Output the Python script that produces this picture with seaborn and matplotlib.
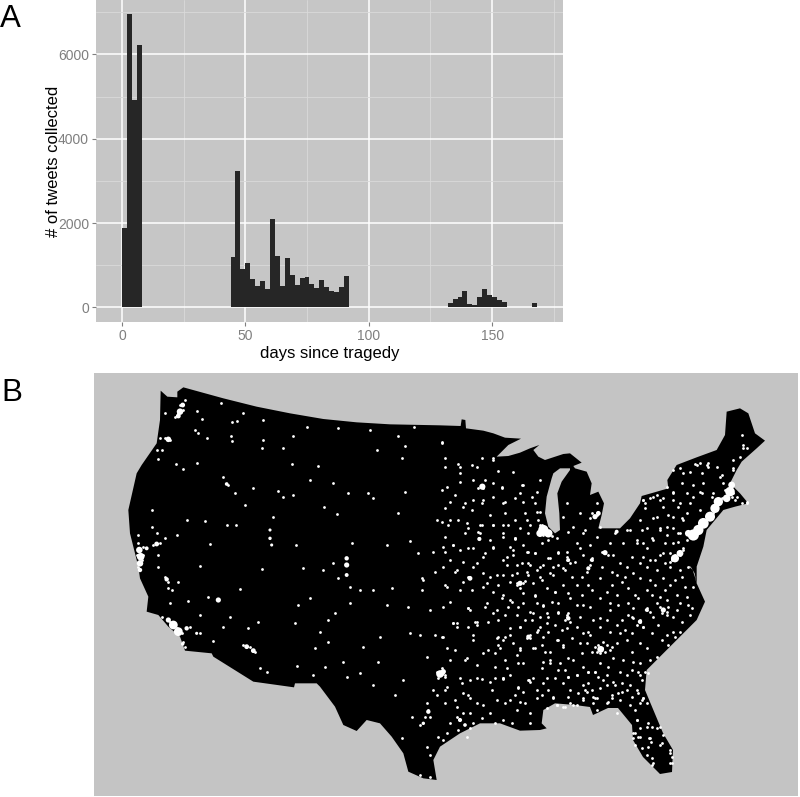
import numpy as np
import pandas as pd
import seaborn as sns
import matplotlib.pyplot as plt

# panel A: tweets per 2 day bin
bin_start = [0, 2, 4, 6,
             44, 46, 48, 50, 52, 54, 56, 58, 60, 62, 64, 66, 68, 70, 72, 74, 76, 78, 80, 82, 84, 86, 88, 90, 92,
             132, 134, 136, 138, 140, 142, 144, 146, 148, 150, 152, 154,
             164, 166]
tweets = [1880, 6950, 4930, 6230,
          1186, 3240, 900, 1060, 680, 506, 632, 443, 2095, 1225, 506, 1170, 767, 522, 696, 727, 561, 450, 640, 482, 387, 356, 490, 743, 20,
          100, 200, 245, 395, 87, 55, 245, 443, 300, 245, 182, 126,
          15, 95]
x_ticks = [0, 50, 100, 150]
y_ticks = [0, 2000, 4000, 6000]

outline_west_x = [212, 232, 262, 262, 280, 400, 500, 600, 700, 800, 900, 1050]
outline_west_y = [62, 80, 82, 65, 52, 85, 110, 130, 147, 157, 163, 166]
outline_east_x = [62, 65, 76, 78, 130, 160, 195, 243, 205, 170, 205, 240, 270, 298, 280, 295, 315, 370, 390, 425, 400, 405, 440, 455, 450, 475, 492, 485, 475, 510, 540, 570, 600, 605, 640, 685, 682, 710, 770, 830, 855, 860, 900, 925, 945, 975, 950, 905, 890, 870, 900, 925, 885, 850, 800, 790, 770, 770, 795, 770, 720, 660, 620, 615, 630, 669, 699, 696, 660, 609, 579, 576, 534, 504, 459, 450, 405, 345, 310, 305, 320, 300, 240, 180, 120, 60, 0]
outline_east_y = [168, 148, 150, 175, 182, 190, 203, 206, 225, 260, 258, 248, 235, 225, 240, 260, 270, 252, 250, 278, 288, 295, 305, 340, 375, 365, 400, 435, 475, 475, 475, 445, 400, 378, 368, 355, 330, 285, 262, 240, 195, 125, 115, 130, 190, 212, 235, 275, 300, 340, 370, 400, 410, 420, 480, 530, 590, 640, 695, 750, 800, 860, 900, 960, 996, 1089, 1140, 1206, 1212, 1161, 1110, 1065, 1014, 1014, 1035, 1011, 1005, 1000, 1020, 1060, 1075, 1080, 1082, 1060, 1060, 1090, 1130]
outline_south_x = [1030, 1040, 1000, 955, 940, 905, 870, 830, 800, 760, 735, 690, 680, 615, 612, 490, 370, 365, 285, 270, 235, 205, 170, 175, 150, 145, 120, 115, 140, 155, 200, 210]
outline_south_y = [1170, 1230, 1225, 1205, 1150, 1100, 1060, 1050, 1083, 1065, 1010, 950, 940, 940, 952, 935, 860, 850, 842, 800, 770, 735, 725, 680, 625, 590, 490, 420, 310, 285, 220, 150]
lake_x = [390, 360, 340, 335, 320, 315, 325, 345, 360, 358, 352, 365, 390]
lake_y = [295, 295, 310, 325, 380, 430, 470, 490, 480, 430, 370, 335, 300]
bay_x = [745, 758, 766, 770, 764, 752]
bay_y = [588, 600, 625, 642, 610, 590]

metro_west_x = [270, 278, 265, 235, 152, 148, 150, 150, 200, 170, 230, 385, 235, 250, 265, 290, 320, 278, 470, 490, 540, 540, 545, 770, 770, 770, 1050, 1060, 1015, 1000, 410]
metro_west_y = [125, 105, 138, 208, 560, 540, 580, 600, 522, 535, 628, 690, 750, 765, 785, 775, 790, 822, 830, 842, 480, 505, 525, 565, 585, 615, 912, 905, 1025, 1060, 342]
metro_west_s = [22, 12, 12, 16, 30, 22, 22, 10, 12, 8, 10, 14, 14, 40, 40, 10, 5, 6, 12, 12, 5, 6, 5, 10, 14, 8, 30, 14, 10, 6, 7]
metro_east_x = [127, 310, 325, 300, 465, 475, 90, 118, 240, 5, 445, 455, 495, 385, 385, 482, 600, 620, 670, 705, 720, 760, 745, 775, 790, 810, 825, 835, 870, 875, 860, 60, 75, 530, 265]
metro_east_y = [350, 480, 490, 490, 440, 430, 625, 507, 640, 910, 595, 570, 548, 570, 745, 838, 755, 720, 720, 565, 550, 495, 490, 480, 460, 440, 415, 395, 365, 345, 385, 1050, 1065, 485, 800]
metro_east_s = [20, 55, 36, 28, 14, 12, 12, 9, 14, 18, 9, 7, 14, 7, 10, 24, 10, 7, 14, 34, 24, 65, 24, 55, 60, 52, 45, 45, 48, 24, 30, 9, 7, 8, 9]

town_west_x = [320, 335, 425, 440, 460, 520, 392, 225, 315, 325, 350, 422, 425, 520, 515, 610, 650, 745, 840, 925, 972, 945, 1055, 935, 860, 578, 605, 685, 258, 280, 205, 322, 400, 415, 490, 435, 465, 565, 580, 610, 660, 730, 775, 835, 850, 945, 1055, 702, 742, 925, 1040, 290, 345, 410, 438, 550, 360, 618, 785, 890, 960, 985, 1030, 730, 640, 515, 330, 700, 745, 780, 995, 1035, 1000, 450, 355, 660, 625, 780, 810, 850, 905, 995, 890, 955, 1020, 735, 715, 690, 715, 615, 505, 475, 420, 400, 330, 370, 295, 240, 265, 235, 185, 185, 145, 200, 260, 225, 870, 820, 1035, 960, 990, 675, 760, 865, 1010, 705, 620, 670, 530, 510, 770, 810, 940, 915, 850, 1030, 1040, 1010, 965, 1045, 935, 1010, 1020, 990, 1020]
town_west_y = [122, 148, 155, 152, 130, 150, 100, 130, 180, 190, 205, 198, 212, 210, 235, 197, 172, 175, 180, 198, 172, 228, 218, 265, 240, 235, 282, 288, 283, 298, 268, 280, 320, 345, 355, 368, 405, 362, 380, 375, 330, 340, 368, 370, 385, 365, 360, 412, 432, 430, 450, 450, 452, 465, 465, 440, 522, 525, 518, 525, 512, 550, 545, 578, 595, 597, 588, 600, 625, 650, 625, 605, 630, 657, 680, 685, 705, 700, 660, 660, 655, 660, 705, 710, 720, 730, 750, 785, 815, 758, 757, 775, 742, 770, 735, 812, 692, 700, 635, 655, 420, 470, 495, 490, 495, 505, 800, 830, 795, 790, 795, 835, 875, 875, 860, 892, 888, 915, 905, 895, 920, 910, 930, 975, 945, 960, 975, 1000, 1040, 1100, 1105, 1130, 1155, 1215, 1222]
# denser specks round the west metros
cluster_west_x = [145, 160, 190, 210, 140, 160, 155, 145, 200, 215, 210, 240, 225, 270, 265, 280, 285, 255, 330, 300, 215, 240, 260, 275, 278, 285, 205, 205, 225, 235, 245, 460, 480, 495, 1040, 1065, 1045, 1055, 1015, 1005, 990, 1020]
cluster_west_y = [520, 530, 525, 520, 555, 555, 570, 590, 240, 240, 205, 210, 205, 105, 130, 120, 90, 140, 790, 770, 740, 755, 775, 790, 815, 830, 555, 590, 620, 635, 660, 825, 830, 845, 905, 920, 925, 895, 1020, 1040, 1065, 1040]

# south east block, measured from (500,520)
town_mid_x = [10, 45, 85, 105, 150, 175, 200, 230, 240, 270, 290, 345, 370, 410, 440, 460, 500, 520, 20, 65, 110, 150, 195, 225, 250, 340, 360, 395, 420, 465, 490, 470, 400, 350, 335, 375, 420, 490, 525, 555, 565, 10, 30, 100, 125, 165, 190, 230, 265, 275, 320, 335, 385, 440, 465, 495, 530, 580, 5, 35, 70, 105, 130, 175, 210, 250, 300, 355, 385, 415, 455, 500, 540, 570, 15, 50, 90, 145, 175, 240, 300, 330, 365, 350, 440, 450, 490, 500, 545, 30, 60, 120, 165, 250, 265, 300, 360, 375, 420, 400, 430, 475, 520, 525, 10, 40, 85, 130, 175, 215, 240, 270, 350, 395, 420, 470, 485, 15, 50, 100, 150, 205, 220, 245, 275, 335, 340, 420, 445, 30, 85, 125, 175, 230, 265, 285, 325, 360, 395, 10, 55, 110, 130, 190, 265, 310, 345, 390, 425, 45, 160, 235, 280, 335, 395, 430]
town_mid_y = [38, 58, 95, 100, 115, 100, 95, 70, 85, 75, 50, 40, 70, 70, 85, 60, 45, 70, 110, 130, 150, 160, 150, 125, 105, 105, 130, 110, 130, 120, 100, 150, 160, 165, 155, 170, 175, 175, 180, 200, 140, 165, 185, 190, 180, 215, 195, 195, 195, 210, 215, 195, 205, 210, 195, 210, 225, 200, 235, 245, 220, 228, 258, 250, 235, 255, 235, 255, 250, 235, 225, 240, 250, 285, 285, 285, 275, 290, 275, 290, 295, 270, 300, 315, 265, 275, 268, 285, 305, 325, 320, 320, 315, 340, 335, 320, 340, 330, 305, 295, 320, 315, 335, 350, 360, 370, 352, 350, 360, 355, 370, 345, 370, 395, 370, 410, 360, 420, 405, 385, 395, 415, 420, 400, 395, 380, 415, 430, 460, 465, 480, 445, 450, 465, 455, 455, 440, 455, 450, 478, 500, 510, 490, 490, 490, 480, 495, 495, 480, 525, 530, 520, 530, 525, 530, 535]
extra_mid_x = [25, 60, 120, 145, 70, 30, 125, 170, 205, 255, 300, 330, 390, 425, 480, 540, 40, 85, 130, 175, 275, 305, 380, 440, 510, 540, 20, 50, 85, 215, 245, 300, 365, 450, 510, 545, 60, 140, 205, 245, 350, 405, 480, 560, 25, 55, 110, 155, 230, 270, 330, 400, 470, 530, 565, 75, 120, 200, 280, 320, 385, 460, 520, 575, 30, 110, 145, 185, 230, 330, 395, 455, 500, 540, 60, 125, 190, 260, 380, 440, 505, 20, 70, 150, 195, 300, 370, 400, 450, 100, 165, 205, 250, 320, 365, 415, 70, 145, 210, 255, 300, 365, 410]
extra_mid_y = [15, 25, 15, 60, 75, 80, 70, 55, 35, 30, 20, 70, 30, 30, 25, 40, 105, 130, 135, 135, 115, 140, 140, 140, 140, 150, 135, 160, 165, 170, 170, 175, 185, 180, 195, 170, 205, 205, 220, 225, 225, 225, 230, 230, 260, 260, 250, 245, 255, 260, 250, 265, 250, 270, 255, 300, 290, 325, 300, 300, 285, 290, 290, 265, 345, 335, 335, 330, 320, 335, 340, 340, 345, 335, 385, 375, 375, 370, 360, 385, 375, 445, 430, 430, 450, 430, 420, 425, 420, 475, 475, 470, 440, 465, 490, 455, 515, 510, 510, 510, 505, 515, 510]
# extra specks round the south east metros, same origin
atl_x = [305, 295, 315, 290, 320, 300, 310, 285, 330, 420, 410, 430, 395, 440, 490, 480, 500, 505, 485, 205, 200, 210, 195, 60, 70, 50, 75, 315, 305, 325, 265, 270, 260, 275, 205, 200, 210, 525, 515, 540, 550, 510, 495, 85, 80, 90]
atl_y = [385, 375, 395, 395, 375, 400, 365, 380, 390, 300, 315, 320, 290, 270, 268, 260, 275, 262, 280, 295, 285, 305, 300, 187, 190, 190, 182, 98, 95, 105, 145, 135, 155, 120, 120, 110, 130, 105, 118, 95, 90, 125, 130, 350, 355, 345]

town_east_x = [5, 15, 160, 60, 110, 60, 160, 185, 250, 30, 75, 125, 190, 250, 290, 30, 80, 125, 160, 225, 260, 300, 380, 420, 370, 400, 430, 470, 450, 455, 470, 10, 40, 85, 130, 160, 10, 50, 100, 150, 20, 60, 130, 10, 50, 85, 110, 140, 170, 40, 100, 130, 175, 10, 45, 75, 165, 15, 60, 110, 150, 190, 70, 110, 170, 230, 270, 150, 50, 100, 190, 20, 80, 700, 730, 770, 800, 840, 880, 910, 905, 790, 760, 700, 720, 640, 610, 660, 700, 780, 740, 680, 650, 600, 560, 590, 880, 850, 905, 920, 820, 620, 600, 610, 560, 540, 590, 620, 580, 600, 630, 650, 665, 690, 695, 640, 625, 460, 400, 350, 500, 530, 470]
town_east_y = [215, 265, 265, 290, 290, 335, 340, 352, 345, 395, 400, 400, 400, 395, 425, 450, 460, 465, 465, 505, 450, 470, 400, 430, 440, 470, 490, 435, 445, 430, 400, 530, 525, 535, 560, 530, 590, 600, 590, 620, 650, 660, 650, 710, 760, 715, 755, 700, 720, 760, 810, 850, 800, 800, 840, 870, 850, 960, 925, 925, 935, 925, 970, 1000, 990, 1020, 1030, 1030, 1040, 1060, 1050, 1090, 1100, 300, 310, 285, 285, 320, 270, 235, 195, 340, 380, 370, 400, 380, 390, 390, 440, 420, 430, 470, 440, 450, 480, 510, 300, 340, 400, 395, 370, 1000, 1000, 985, 960, 990, 1050, 1070, 1090, 1100, 1105, 1075, 1120, 1150, 1180, 1180, 1130, 1000, 1005, 1005, 1000, 1030, 1020]
gulf_x = [15, 45, 90, 130, 210, 255, 290, 340, 385, 430, 470, 515, 30, 70, 125, 165, 215, 270, 10, 55, 90]
gulf_y = [1000, 990, 1030, 1005, 990, 1000, 985, 985, 980, 990, 985, 985, 1060, 1030, 1045, 1060, 1060, 1060, 1110, 1080, 1075]

# upper midwest crop, measured from (440,450)
midwest_x = [15, 55, 95, 125, 160, 175, 220, 60, 100, 135, 185, 245, 300, 290, 240, 20, 45, 100, 130, 160, 195, 225, 275, 15, 70, 95, 150, 195, 255, 300, 285, 5, 25, 55, 85, 120, 160, 190, 225, 270, 295, 15, 40, 75, 118, 150, 190, 225, 265, 15, 60, 100, 135, 160, 220, 260, 285, 325, 355, 380, 30, 70, 110, 190, 230, 270, 300, 340, 370, 45, 85, 130, 170, 215, 260, 300, 340, 120, 115, 125, 115, 130, 310, 320, 310, 325, 300, 335, 305]
midwest_y = [50, 42, 45, 25, 30, 62, 65, 70, 90, 90, 115, 105, 90, 125, 130, 110, 135, 150, 150, 140, 155, 145, 140, 175, 170, 180, 195, 190, 190, 185, 160, 215, 225, 210, 235, 225, 225, 225, 210, 225, 210, 260, 285, 250, 265, 270, 260, 265, 250, 305, 300, 295, 310, 295, 300, 305, 310, 325, 305, 330, 330, 335, 340, 330, 345, 345, 350, 350, 355, 365, 380, 370, 375, 375, 365, 380, 375, 250, 245, 105, 115, 115, 235, 245, 255, 255, 245, 258, 225]
# great plains and mid south crop, measured from (440,580)
plains_x = [15, 70, 95, 140, 175, 190, 160, 240, 230, 285, 345, 310, 30, 85, 90, 135, 160, 210, 250, 280, 320, 355, 380, 385, 40, 50, 85, 105, 110, 145, 175, 240, 275, 320, 5, 100, 170, 195, 265, 270, 295, 350, 20, 145, 175, 180, 240, 285, 315, 370, 30, 80, 165, 235, 310, 330, 360, 110, 5, 15, 10, 90, 125, 165, 190, 268, 270, 320, 20, 65, 155, 235, 305, 85, 90, 195, 240, 350, 375, 320, 50]
plains_y = [15, 5, 30, 10, 15, 45, 35, 10, 15, 45, 35, 75, 65, 85, 90, 80, 100, 60, 70, 100, 100, 100, 110, 100, 130, 140, 140, 125, 135, 125, 120, 140, 120, 130, 170, 165, 175, 170, 170, 175, 150, 180, 205, 210, 195, 205, 210, 205, 215, 200, 240, 235, 260, 250, 245, 240, 250, 255, 280, 285, 275, 300, 298, 295, 295, 300, 305, 295, 320, 310, 330, 325, 345, 345, 355, 370, 365, 375, 380, 385, 380]
# north east crop, measured from (640,440)
neast_x = [165, 180, 205, 205, 150, 120, 245, 230, 185, 125, 160, 100, 80, 180, 185, 50, 30, 10, 15, 70, 100, 140, 15, 70, 115, 150, 215, 40, 85, 125, 130, 20, 60, 100, 115, 35, 10, 75, 115, 60, 30, 10, 90, 310, 320, 300, 280, 285, 320, 290, 270, 265, 275, 255, 280, 235, 225, 210, 195, 185, 170, 150, 160, 140, 165, 200, 220, 245, 105, 120, 95, 115, 130]
neast_y = [72, 70, 70, 80, 95, 85, 105, 80, 100, 130, 135, 155, 140, 155, 160, 165, 175, 180, 190, 175, 180, 160, 205, 200, 200, 190, 170, 235, 225, 235, 240, 265, 270, 265, 280, 295, 310, 310, 305, 345, 360, 350, 340, 15, 25, 50, 85, 180, 190, 170, 145, 160, 170, 150, 160, 190, 205, 225, 240, 255, 265, 285, 295, 300, 280, 235, 220, 175, 355, 345, 360, 335, 325]
# florida crop, measured from (560,670)
florida_x = [50, 85, 105, 25, 70, 115, 140, 160, 80, 95, 175, 200, 240, 255, 235, 145, 105, 70, 30, 10, 50, 245, 225, 210, 230, 265, 275, 225, 235, 220, 268, 272, 300, 310, 260, 275, 300, 330, 335, 330, 275, 245, 225, 240]
florida_y = [15, 5, 5, 20, 45, 20, 45, 35, 65, 60, 70, 15, 15, 5, 70, 97, 85, 85, 100, 110, 105, 90, 120, 105, 150, 160, 170, 190, 200, 205, 205, 215, 170, 195, 255, 265, 225, 240, 260, 280, 285, 235, 225, 175]

sns.set_theme(style='darkgrid')
plt.rcParams['font.family'] = ['Liberation Sans', 'DejaVu Sans']

panel_grey = '#c6c6c6'
fig = plt.figure(figsize=(8, 7.97), dpi=100)

# A - histogram
ax1 = fig.add_axes([96 / 800, 1 - 322 / 797, 466.7 / 800, 322 / 797])
hist_df = pd.DataFrame({'day': bin_start, 'n': tweets})
sns.histplot(data=hist_df, x='day', weights='n', binwidth=2, binrange=(0, 168),
             color='#262626', alpha=1, linewidth=0, ax=ax1)
ax1.set_facecolor(panel_grey)
ax1.set_xlim(-10.5, 178.6)
ax1.set_ylim(-345, 7290)
ax1.set_xticks(x_ticks)
ax1.set_yticks(y_ticks)
ax1.set_xticks([25, 75, 125, 175], minor=True)
ax1.set_yticks([1000, 3000, 5000, 7000], minor=True)
ax1.grid(True, which='major', color='white', linewidth=1.1)
ax1.grid(True, which='minor', color='#dadada', linewidth=0.6)
ax1.set_axisbelow(True)
ax1.tick_params(axis='both', which='major', length=3, width=0.8, color='#7f7f7f',
                labelcolor='#7f7f7f', labelsize=10, pad=2, bottom=True, left=True)
ax1.tick_params(axis='both', which='minor', length=0)
for s in ax1.spines.values():
    s.set_visible(False)
ax1.set_xlabel('days since tragedy', fontsize=12, color='black', labelpad=2)
ax1.set_ylabel('# of tweets collected', fontsize=12, color='black', labelpad=-2)

# B - map, y axis runs downwards like the picture
ax2 = fig.add_axes([94 / 800, 1 - 796 / 797, 704 / 800, 423 / 797])
ax2.set_xlim(12, 2124)
ax2.set_ylim(1278, 9)
ax2.set_facecolor('#c4c4c4')
ax2.grid(False)
ax2.set_xticks([])
ax2.set_yticks([])
for s in ax2.spines.values():
    s.set_visible(False)

east_shift = 1050
outline_x = outline_west_x + [v + east_shift for v in outline_east_x] + outline_south_x
outline_y = outline_west_y + outline_east_y + outline_south_y
ax2.fill(outline_x, outline_y, color='black', linewidth=0, zorder=1)
ax2.fill([v + east_shift for v in lake_x], lake_y, color='#c4c4c4', linewidth=0, zorder=2)
ax2.fill([v + east_shift for v in bay_x], bay_y, color='#c4c4c4', linewidth=0, zorder=2)


def shifted(xs, ys, dx, dy):
    return pd.DataFrame({'x': np.array(xs) + dx, 'y': np.array(ys) + dy})


towns = pd.concat([
    shifted(town_west_x, town_west_y, 0, 0),
    shifted(cluster_west_x, cluster_west_y, 0, 0),
    shifted(town_mid_x, town_mid_y, 1230, 450),
    shifted(extra_mid_x, extra_mid_y, 1230, 450),
    shifted(atl_x, atl_y, 1230, 450),
    shifted(town_east_x, town_east_y, east_shift, 0),
    shifted(gulf_x, gulf_y, east_shift, 0),
    shifted(midwest_x, midwest_y, 1050, 240),
    shifted(plains_x, plains_y, 1050, 630),
    shifted(neast_x, neast_y, 1650, 210),
    shifted(florida_x, florida_y, 1410, 900),
])
metros = pd.DataFrame({
    'x': metro_west_x + [v + east_shift for v in metro_east_x],
    'y': metro_west_y + metro_east_y,
    's': metro_west_s + metro_east_s,
})
sns.scatterplot(data=towns, x='x', y='y', s=4, color='white', linewidth=0, legend=False, ax=ax2, zorder=3)
ax2.scatter(metros['x'], metros['y'], s=metros['s'], color='white', linewidth=0, zorder=3)
ax2.set_xlabel('')
ax2.set_ylabel('')

fig.text(0 / 800, 1 - 27 / 797, 'A', fontsize=22.5, color='black')
fig.text(1 / 800, 1 - 401 / 797, 'B', fontsize=22.5, color='black')

fig.savefig('out.png', dpi=100)
